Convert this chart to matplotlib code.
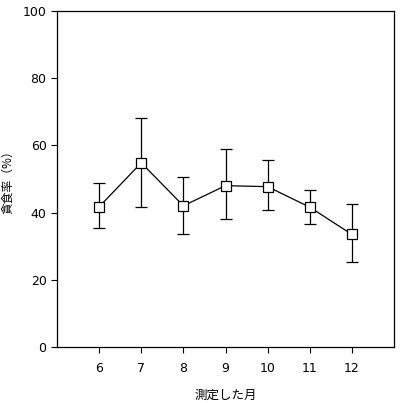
import matplotlib.pyplot as plt
import numpy as np

plt.rcParams['font.family'] = ['Noto Sans CJK JP', 'DejaVu Sans']

# data
months = [6, 7, 8, 9, 10, 11, 12]
rate = [41.7, 54.8, 42.0, 48.0, 47.7, 41.6, 33.5]
err_top = [48.8, 68.2, 50.6, 58.8, 55.6, 46.7, 42.6]
err_bot = [35.4, 41.7, 33.6, 38.0, 40.7, 36.7, 25.2]

rate = np.array(rate)
yerr = [rate - np.array(err_bot), np.array(err_top) - rate]

fig = plt.figure(figsize=(4.0, 4.03), dpi=100)
ax = fig.add_axes([0.1425, 0.139, 0.8425, 0.834])

ax.errorbar(months, rate, yerr=yerr, color='black', lw=0.9, elinewidth=0.9,
            capsize=4.5, capthick=0.9, marker='s', markersize=6.5,
            markerfacecolor='white', markeredgecolor='black', markeredgewidth=0.9)

ax.set_xlim(5, 13)
ax.set_ylim(0, 100)
ax.set_xticks(months)
ax.set_yticks([0, 20, 40, 60, 80, 100])
ax.tick_params(direction='out', length=4.5, width=0.8, top=False, right=False)
ax.tick_params(axis='x', pad=6)
ax.tick_params(axis='y', pad=3)
for lab in ax.get_xticklabels() + ax.get_yticklabels():
    lab.set_family('DejaVu Sans')
    lab.set_fontsize(9)
for s in ax.spines.values():
    s.set_linewidth(0.9)

ax.set_xlabel('測定した月', fontsize=9, labelpad=10)
ax.set_ylabel('貪食率（%）', fontsize=8.5, labelpad=6)

fig.savefig('out.png', dpi=100)
